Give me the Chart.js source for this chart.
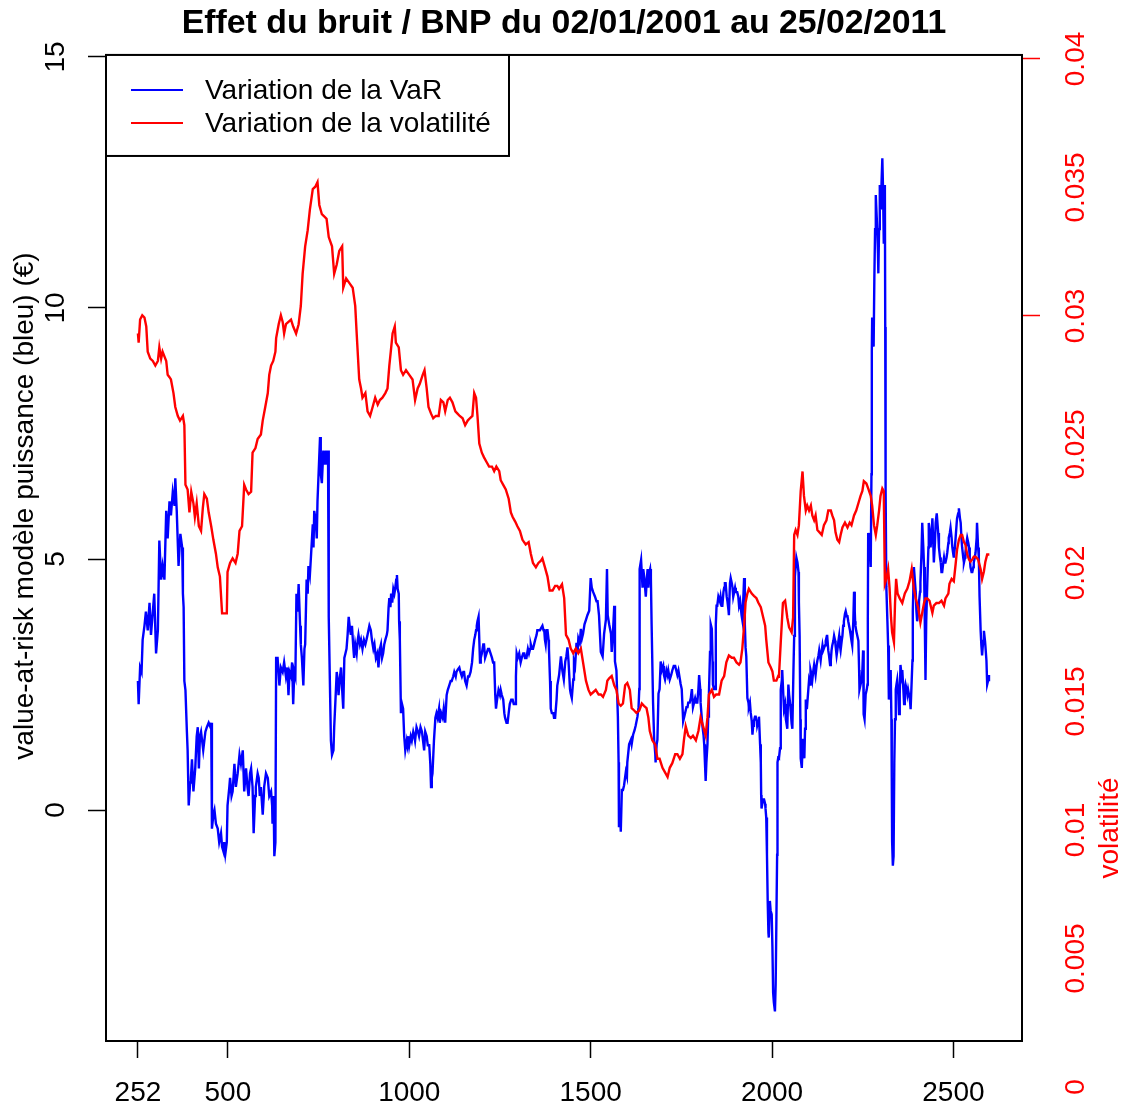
<!DOCTYPE html>
<html>
<head>
<meta charset="utf-8">
<script src="https://cdn.jsdelivr.net/npm/chart.js@4.4.1/dist/chart.umd.min.js"></script>
<style>
  html, body { margin: 0; padding: 0; background: #fff; }
  #wrap { width: 1128px; height: 1114px; }
</style>
</head>
<body>
<div id="wrap"><canvas id="chart" width="1128" height="1114"></canvas></div>
<script>
// Tick positions / labels
const xTicks = [252, 500, 1000, 1500, 2000, 2500];
const leftTicks = [0, 5, 10, 15];
const rightTicks = [0, 0.005, 0.01, 0.015, 0.02, 0.025, 0.03, 0.035, 0.04];
const rightTickLabels = ['0', '0.005', '0.01', '0.015', '0.02', '0.025', '0.03', '0.035', '0.04'];
const rightTickMarks = [0.03, 0.04];

// Series: [day index, value]
const varPoints = [
  [252,2.57],[254,2.11],[258,2.84],[262,2.75],[265,3.39],[270,3.67],[274,3.95],[279,3.58],[284,4.13],[288,3.49],
  [293,3.95],[297,4.31],[302,3.12],[307,3.58],[311,5.37],[316,4.59],[320,4.86],[325,4.59],[330,5.96],[334,5.41],
  [339,6.15],[343,5.87],[348,6.33],[353,6.06],[355,6.61],[359,5.96],[364,4.86],[369,5.50],[374,5.23],[376,4.31],
  [378,4.04],[380,2.57],[383,2.39],[387,1.56],[389,1.19],[392,0.09],[396,0.55],[398,0.64],[401,1.01],[405,0.37],
  [410,0.83],[414,1.47],[417,1.65],[420,0.83],[423,1.47],[426,1.56],[432,1.19],[438,1.56],[442,1.65],[447,1.74],
  [452,1.65],[454,1.74],[456,-0.37],[460,-0.09],[463,0.0],[467,-0.27],[472,-0.37],[476,-0.64],[481,-0.46],[484,-0.73],
  [488,-0.83],[490,-0.64],[493,-0.87],[497,-0.64],[499,0.09],[504,0.46],[506,0.64],[510,0.28],[513,0.37],[518,0.92],
  [522,0.46],[527,0.73],[532,1.10],[536,0.92],[541,1.19],[545,0.37],[550,0.83],[554,0.46],[557,0.28],[561,0.73],
  [564,0.83],[568,0.46],[571,-0.46],[575,0.28],[577,0.46],[582,0.73],[585,0.64],[588,0.28],[591,0.46],[596,-0.09],
  [599,0.28],[600,0.46],[605,0.73],[610,0.64],[614,0.28],[619,0.37],[622,0.09],[623,-0.27],[626,0.28],[628,-0.92],
  [631,-0.64],[633,3.03],[637,3.03],[642,2.48],[646,2.84],[651,2.75],[655,2.94],[660,2.66],[664,2.84],[667,2.29],
  [670,2.75],[674,2.66],[677,2.94],[680,2.11],[683,2.75],[686,2.66],[689,4.31],[692,3.95],[695,4.50],[699,3.67],
  [701,3.30],[704,3.03],[708,2.48],[711,3.21],[713,3.30],[717,4.59],[720,4.31],[722,4.86],[726,4.68],[729,5.05],
  [734,5.69],[736,5.23],[738,5.96],[742,5.78],[745,5.41],[747,6.15],[750,6.70],[754,7.43],[756,6.70],[759,6.51],
  [763,7.16],[767,6.88],[770,7.16],[774,6.88],[776,7.16],[778,3.85],
  [784,1.38],[787,1.10],[791,1.19],[793,1.65],[796,2.11],[800,2.75],[803,2.57],[805,2.29],[809,2.66],[812,2.84],
  [815,2.39],[818,2.02],[821,3.03],[824,3.12],[827,3.21],[830,3.49],[833,3.85],[837,3.58],[839,3.49],[842,3.67],
  [846,3.21],[848,3.03],[851,3.30],[855,3.12],[858,3.39],[860,3.49],[864,3.30],[867,3.39],[871,3.21],[875,3.39],
  [879,3.30],[882,3.39],[885,3.49],[890,3.67],[894,3.58],[897,3.39],[901,3.21],[904,3.30],[908,3.03],[912,3.12],
  [915,2.84],[919,3.21],[922,3.30],[925,3.03],[928,3.12],[931,3.30],[934,3.39],[938,3.49],[940,3.58],[943,4.04],
  [945,4.22],[948,4.04],[950,4.31],[953,4.13],[956,4.40],[959,4.31],[961,4.40],[964,4.59],[966,4.68],[968,4.40],
  [971,4.31],[972,3.76],[974,3.39],[977,1.93],[980,2.11],[983,2.02],[986,1.47],[989,1.19],[993,1.38],[995,1.29],
  [998,1.47],[1000,1.29],[1004,1.47],[1007,1.38],[1011,1.56],[1014,1.47],[1016,1.38],[1020,1.65],[1024,1.56],[1027,1.47],
  [1031,1.65],[1035,1.56],[1038,1.38],[1041,1.19],[1044,1.56],[1048,1.47],[1051,1.29],[1055,1.29],[1058,0.92],[1060,0.46],
  [1062,0.64],[1064,0.73],[1068,1.38],[1072,1.84],[1075,1.93],[1078,1.84],[1082,2.02],[1084,1.74],[1088,1.93],[1092,1.84],
  [1095,2.02],[1099,1.74],[1103,2.29],[1106,2.39],[1110,2.48],[1114,2.57],[1117,2.57],[1121,2.66],[1124,2.75],[1128,2.66],
  [1130,2.75],[1134,2.80],[1138,2.84],[1141,2.75],[1145,2.66],[1149,2.75],[1151,2.75],[1154,2.57],[1158,2.48],[1162,2.66],
  [1165,2.66],[1169,2.75],[1173,2.94],[1176,3.21],[1179,3.39],[1182,3.49],[1184,3.58],[1186,3.67],[1188,3.76],[1191,3.85],
  [1195,2.94],[1197,3.03],[1200,3.12],[1204,3.30],[1206,3.30],[1209,3.03],[1213,3.12],[1217,3.21],[1220,3.21],[1224,3.12],
  [1228,3.03],[1231,2.94],[1234,2.94],[1237,2.29],[1239,2.02],[1242,2.20],[1246,2.39],[1250,2.29],[1252,2.39],[1255,2.29],
  [1259,2.20],[1262,1.93],[1264,1.84],[1268,1.74],[1271,1.74],[1274,1.93],[1277,2.11],[1281,2.20],[1285,2.20],[1288,2.11],
  [1292,2.11],[1294,2.66],[1296,3.12],[1299,3.03],[1303,3.12],[1307,2.94],[1310,3.03],[1314,3.12],[1317,3.12],[1319,3.03],
  [1323,3.03],[1327,3.21],[1330,3.12],[1333,3.21],[1335,3.30],[1338,3.21],[1341,3.21],[1344,3.30],[1347,3.39],[1351,3.49],
  [1353,3.58],[1356,3.58],[1360,3.58],[1363,3.62],[1367,3.67],[1370,3.58],[1372,3.58],[1374,3.39],[1376,3.30],[1379,3.58],
  [1381,3.58],[1384,3.39],[1385,3.21],[1388,2.57],[1390,2.02],[1393,1.93],[1397,1.93],[1399,1.84],[1402,1.84],[1406,2.20],
  [1408,2.48],
  [1413,2.69],[1418,3.06],[1422,2.78],[1426,2.60],[1430,2.96],[1433,3.06],[1436,3.24],[1439,2.96],[1443,2.41],[1445,2.32],
  [1448,2.23],[1452,2.60],[1454,2.96],[1457,2.87],[1461,3.33],[1464,3.15],[1466,3.42],[1470,3.33],[1473,3.61],[1476,3.42],
  [1479,3.51],[1483,3.70],[1487,3.79],[1491,3.88],[1496,3.97],[1500,4.62],[1503,4.43],[1507,4.34],[1512,4.25],[1516,4.16],
  [1519,4.16],[1523,3.88],[1528,3.15],[1533,3.06],[1537,3.51],[1542,3.79],[1545,4.80],[1547,3.88],[1551,3.70],[1556,3.51],
  [1558,3.15],[1562,3.61],[1565,4.07],[1567,2.96],[1571,2.78],[1575,1.86],[1577,0.95],[1578,-0.34],[1581,0.03],[1583,-0.43],
  [1586,0.40],[1589,0.40],[1592,0.49],[1597,0.76],[1600,0.67],[1601,0.95],[1606,1.31],[1611,1.40],[1613,1.31],[1617,1.50],
  [1621,1.59],[1624,1.68],[1629,1.86],[1632,2.05],[1634,2.41],[1635,4.80],[1639,4.98],[1643,4.43],[1645,4.80],[1648,4.62],
  [1652,4.25],[1655,4.62],[1657,4.80],[1659,4.43],[1661,4.71],[1664,4.80],[1666,4.62],[1668,3.70],[1672,2.14],[1675,1.40],
  [1678,1.13],[1679,0.95],[1682,1.31],[1684,1.40],[1687,2.32],[1690,2.41],[1693,2.96],[1696,2.78],[1700,2.87],[1702,2.69],
  [1705,2.60],[1709,2.78],[1712,2.69],[1714,2.78],[1718,2.60],[1722,2.69],[1725,2.78],[1729,2.87],[1733,2.87],[1736,2.78],
  [1739,2.69],[1742,2.78],[1746,2.60],[1748,2.51],[1751,2.41],[1755,1.77],[1758,1.86],[1760,1.86],[1764,2.05],[1767,2.05],
  [1769,2.14],[1773,2.14],[1776,2.23],[1779,2.41],[1782,2.05],[1785,2.14],[1788,2.23],[1791,2.14],[1794,2.14],[1797,2.41],
  [1799,2.69],[1802,2.41],[1803,2.14],[1806,1.86],[1808,1.68],[1811,1.50],[1813,1.31],[1815,0.95],[1817,0.58],[1819,0.95],
  [1822,1.31],[1824,1.86],[1826,2.32],[1829,3.15],[1831,3.70],[1834,3.61],[1836,2.96],[1837,2.50],[1840,2.41],[1843,2.41],
  [1845,3.70],[1847,4.07],[1849,4.07],[1852,4.25],[1856,4.16],[1858,4.25],[1861,4.07],[1863,4.07],[1866,4.34],[1868,4.43],
  [1870,4.52],[1872,4.52],[1875,4.25],[1877,4.16],[1880,3.97],[1881,3.88],[1884,4.52],[1886,4.62],[1889,4.52],[1891,4.43],
  [1893,4.25],[1895,4.25],[1898,4.43],[1900,4.34],[1903,4.34],[1904,4.34],[1907,4.25],[1909,4.07],[1912,4.16],[1914,4.16],
  [1916,3.88],[1918,3.79],[1921,4.25],[1923,4.62],[1925,3.70],[1927,3.24],[1929,3.06],[1932,2.23],[1935,2.14],[1936,2.05],
  [1939,2.14],[1941,1.95],[1944,1.77],[1946,1.50],[1948,1.68],[1950,1.77],[1953,1.86],[1955,1.86],[1958,1.77],[1959,1.68],
  [1962,1.77],[1964,1.86],[1967,1.31],[1969,0.95],[1970,0.30],[1971,0.03],[1975,0.21],[1978,0.21],[1981,0.12],[1982,0.03],
  [1984,-0.15],[1986,-0.89],[1988,-1.81],[1990,-2.45],[1991,-2.54],[1994,-1.81],[1996,-2.00],[1999,-2.08],[2001,-2.72],[2003,-3.64],
  [2005,-3.83],[2008,-4.01],[2010,-3.46],[2012,-2.17],[2014,-0.89],[2015,0.95],[2017,1.04],
  [2019,1.03],[2022,1.23],[2024,2.40],[2027,2.59],[2028,2.79],[2031,2.30],[2033,2.01],[2036,2.11],[2038,1.81],[2040,1.72],
  [2042,1.62],[2045,2.50],[2047,2.30],[2050,2.11],[2051,2.01],[2054,1.72],[2056,1.62],[2059,2.79],[2061,3.47],[2063,4.93],
  [2065,4.84],[2067,5.03],[2070,4.93],[2073,4.74],[2074,4.15],[2076,3.47],[2078,1.81],[2079,1.03],[2082,0.84],[2084,1.23],
  [2085,1.42],[2087,1.13],[2089,1.03],[2091,1.62],[2093,2.20],[2096,2.01],[2097,2.11],[2100,2.40],[2102,2.59],[2105,2.50],
  [2106,2.79],[2109,2.69],[2111,2.59],[2114,2.79],[2116,2.89],[2118,2.79],[2120,2.69],[2123,2.89],[2125,2.98],[2128,3.08],
  [2130,3.18],[2132,3.08],[2134,2.98],[2137,3.18],[2139,3.28],[2141,3.18],[2143,3.18],[2146,3.28],[2148,3.37],[2151,3.47],
  [2152,3.47],[2155,3.18],[2157,3.08],[2160,2.89],[2162,2.98],[2164,3.18],[2166,3.28],[2169,3.37],[2171,3.47],[2174,3.37],
  [2175,3.28],[2178,3.08],[2180,3.18],[2183,3.37],[2185,3.47],[2187,3.28],[2189,3.18],[2192,3.37],[2194,3.47],[2196,3.67],
  [2198,3.76],[2201,3.91],[2203,3.96],[2206,3.86],[2208,3.86],[2210,3.76],[2212,3.76],[2215,3.57],[2217,3.47],[2219,3.37],
  [2221,3.28],[2224,3.76],[2226,4.35],[2228,3.96],[2229,3.76],[2230,3.67],[2232,3.57],[2235,3.47],[2238,3.37],[2240,2.79],
  [2241,2.40],[2244,2.50],[2247,2.59],[2249,2.79],[2251,3.18],[2252,2.30],[2253,1.91],[2255,1.81],[2258,2.30],[2261,2.40],
  [2263,2.50],[2264,3.76],[2265,5.52],[2267,5.42],[2269,5.42],[2271,5.03],[2272,4.84],[2274,6.69],[2275,9.13],[2276,9.81],
  [2278,9.62],[2280,9.23],[2282,10.59],[2284,11.57],[2286,12.25],[2287,12.06],[2290,11.57],[2292,11.08],[2293,10.69],[2295,11.57],
  [2297,12.45],[2298,12.15],[2300,11.96],[2302,12.54],[2304,12.98],[2306,12.35],[2308,11.28],[2309,11.76],[2311,12.45],[2312,9.62],
  [2313,6.40],[2315,4.45],[2318,3.76],[2320,3.28],[2322,2.20],[2325,2.50],[2327,2.79],[2329,1.81],[2330,0.64],[2331,-0.63],
  [2333,-1.11],[2335,-0.92],[2337,0.93],[2339,1.81],[2341,2.40],[2343,2.50],[2345,2.59],[2348,2.30],[2350,1.91],[2352,2.30],
  [2354,2.89],[2357,2.69],[2359,2.79],[2362,2.40],[2364,2.11],[2366,2.40],[2368,2.50],[2371,2.40],[2373,2.30],[2375,2.40],
  [2377,2.40],[2380,2.20],[2382,2.01],[2385,2.59],[2387,2.98],[2388,3.96],[2391,4.84],[2394,4.54],[2396,4.35],[2398,3.96],
  [2400,3.76],[2403,3.96],[2405,4.15],[2408,4.35],[2409,4.54],[2412,5.13],[2414,5.72],[2417,5.23],[2419,4.84],[2421,3.76],
  [2423,2.59],[2425,3.76],[2428,4.54],[2431,5.23],[2432,5.72],[2435,5.52],[2437,5.23],[2440,5.52],[2442,5.81],[2444,5.42],
  [2446,4.93],[2449,5.32],[2451,5.72],[2454,5.91],[2455,5.81],[2458,5.52],[2460,5.23],[2463,5.03],[2465,4.93],[2467,4.74],
  [2469,4.74],[2472,4.93],[2474,5.03],[2476,4.93],[2478,4.93],[2481,5.03],[2483,5.13],[2486,5.32],[2487,5.42],[2490,5.52],
  [2492,5.62],[2495,5.42],[2497,5.23],[2499,5.13],[2501,5.03],[2504,5.23],[2506,5.42],[2509,5.72],[2510,5.81],[2513,5.91],
  [2515,6.01],[2518,5.81],[2520,5.72],[2522,5.42],[2524,5.23],[2527,5.03],[2529,4.93],[2532,5.03],[2533,5.13],[2536,5.32],
  [2538,5.42],[2541,5.32],[2543,5.23],[2545,5.03],[2547,4.84],[2550,4.74],[2552,4.74],[2555,4.84],[2556,4.93],[2559,5.03],
  [2561,5.13],[2564,5.42],[2565,5.72],[2568,5.23],[2570,5.03],[2572,4.25],[2575,3.57],[2577,3.28],[2579,3.08],[2582,3.37],
  [2584,3.57],[2587,3.37],[2588,3.28],[2591,2.98],[2593,2.50],[2596,2.59],[2598,2.69]
];

const volPoints = [
  [252,0.02932],[254,0.02896],[258,0.02986],[264,0.03003],[270,0.02994],[275,0.02959],[279,0.02861],[286,0.02834],[293,0.02825],[300,0.02807],
  [307,0.02825],[311,0.02878],[316,0.02834],[320,0.02861],[325,0.02843],[330,0.02825],[334,0.02771],[339,0.02762],[343,0.02753],[350,0.02700],
  [355,0.02646],[362,0.02611],[368,0.02593],[376,0.02611],[380,0.02575],[383,0.02343],[389,0.02325],[394,0.02236],[399,0.02316],[405,0.02271],
  [409,0.02218],[414,0.02271],[420,0.02182],[426,0.02164],[431,0.02254],[435,0.02307],[442,0.02289],[447,0.02236],[454,0.02182],[460,0.02129],
  [467,0.02075],[472,0.02022],[478,0.01986],[484,0.01843],[490,0.01843],[497,0.01843],[499,0.02004],[506,0.02039],[513,0.02057],[521,0.02039],
  [527,0.02075],[532,0.02164],[539,0.02182],[545,0.02343],[550,0.02325],[557,0.02307],[564,0.02316],[568,0.02468],[576,0.02486],[582,0.02521],
  [591,0.02539],[596,0.02593],[603,0.02646],[610,0.02700],[614,0.02771],[619,0.02807],[625,0.02825],[631,0.02861],[633,0.02914],[640,0.02968],
  [646,0.03003],[651,0.02977],[655,0.02932],[660,0.02968],[667,0.02977],[674,0.02986],[680,0.02959],[688,0.02932],[695,0.02968],[701,0.03039],
  [706,0.03164],[713,0.03271],[720,0.03334],[726,0.03414],[734,0.03494],[741,0.03503],[747,0.03521],[752,0.03432],[759,0.03396],[766,0.03387],
  [772,0.03378],[778,0.03307],
  [787,0.03271],[793,0.03164],[800,0.03200],[807,0.03253],[815,0.03271],[818,0.03110],[826,0.03146],[835,0.03128],[844,0.03110],[851,0.03039],
  [855,0.02932],[862,0.02753],[867,0.02718],[871,0.02682],[879,0.02700],[885,0.02629],[892,0.02611],[899,0.02646],[906,0.02682],[913,0.02655],
  [919,0.02673],[926,0.02682],[934,0.02700],[940,0.02718],[945,0.02807],[949,0.02861],[954,0.02932],[960,0.02959],[963,0.02896],[971,0.02878],
  [977,0.02789],[983,0.02771],[991,0.02789],[1000,0.02771],[1009,0.02753],[1016,0.02673],[1023,0.02718],[1029,0.02736],[1037,0.02771],[1042,0.02789],
  [1048,0.02718],[1053,0.02646],[1060,0.02620],[1066,0.02602],[1073,0.02611],[1081,0.02611],[1087,0.02673],[1094,0.02664],[1099,0.02629],[1106,0.02673],
  [1112,0.02682],[1119,0.02664],[1127,0.02629],[1133,0.02620],[1139,0.02611],[1147,0.02602],[1154,0.02575],[1161,0.02593],[1167,0.02602],[1174,0.02611],
  [1179,0.02700],[1184,0.02682],[1188,0.02611],[1193,0.02504],[1200,0.02468],[1206,0.02450],[1213,0.02432],[1220,0.02414],[1228,0.02414],[1234,0.02396],
  [1240,0.02414],[1248,0.02396],[1252,0.02361],[1259,0.02343],[1266,0.02325],[1274,0.02289],[1280,0.02236],[1285,0.02218],[1292,0.02200],[1298,0.02182],
  [1305,0.02164],[1312,0.02129],[1321,0.02111],[1329,0.02120],[1335,0.02075],[1341,0.02039],[1349,0.02022],[1356,0.02039],[1363,0.02048],[1367,0.02057],
  [1374,0.02022],[1381,0.01986],[1387,0.01932],[1395,0.01932],[1402,0.01950],[1408,0.01950],
  [1413,0.01938],[1421,0.01956],[1427,0.01902],[1432,0.01759],[1439,0.01741],[1445,0.01706],[1452,0.01688],[1459,0.01706],[1466,0.01688],[1473,0.01706],
  [1479,0.01652],[1487,0.01581],[1494,0.01545],[1500,0.01527],[1507,0.01536],[1514,0.01545],[1522,0.01527],[1528,0.01527],[1534,0.01518],[1542,0.01545],
  [1546,0.01581],[1551,0.01590],[1558,0.01599],[1565,0.01563],[1571,0.01545],[1577,0.01492],[1583,0.01483],[1589,0.01492],[1595,0.01563],[1601,0.01572],
  [1608,0.01545],[1613,0.01474],[1620,0.01465],[1626,0.01456],[1634,0.01465],[1641,0.01492],[1647,0.01483],[1654,0.01474],[1659,0.01438],[1663,0.01385],
  [1670,0.01349],[1678,0.01331],[1684,0.01277],[1690,0.01277],[1698,0.01242],[1705,0.01224],[1712,0.01206],[1718,0.01242],[1725,0.01260],[1733,0.01295],
  [1739,0.01295],[1746,0.01277],[1753,0.01295],[1757,0.01349],[1762,0.01403],[1769,0.01367],[1776,0.01358],[1782,0.01367],[1790,0.01349],[1797,0.01385],
  [1803,0.01438],[1810,0.01403],[1817,0.01367],[1822,0.01438],[1826,0.01527],[1834,0.01545],[1840,0.01518],[1846,0.01527],[1854,0.01527],[1861,0.01581],
  [1868,0.01599],[1874,0.01652],[1881,0.01679],[1889,0.01670],[1895,0.01670],[1902,0.01652],[1909,0.01643],[1913,0.01652],[1918,0.01706],[1923,0.01795],
  [1927,0.01885],[1932,0.01920],[1936,0.01938],[1944,0.01920],[1950,0.01911],[1957,0.01902],[1962,0.01885],[1969,0.01867],[1975,0.01831],[1981,0.01795],
  [1984,0.01741],[1990,0.01652],[1996,0.01634],[2001,0.01617],[2005,0.01581],[2012,0.01581],[2017,0.01599],
  [2019,0.01598],[2024,0.01731],[2030,0.01883],[2036,0.01892],[2042,0.01826],[2047,0.01788],[2054,0.01769],[2058,0.01826],[2061,0.02148],[2065,0.02167],
  [2070,0.02148],[2074,0.02186],[2079,0.02319],[2084,0.02395],[2088,0.02300],[2093,0.02243],[2097,0.02262],[2102,0.02243],[2107,0.02262],[2111,0.02224],
  [2116,0.02205],[2120,0.02224],[2125,0.02167],[2131,0.02158],[2137,0.02148],[2143,0.02186],[2150,0.02205],[2155,0.02243],[2162,0.02243],[2166,0.02224],
  [2171,0.02205],[2175,0.02158],[2180,0.02129],[2185,0.02120],[2189,0.02148],[2194,0.02177],[2201,0.02196],[2208,0.02177],[2214,0.02196],[2219,0.02186],
  [2226,0.02224],[2232,0.02243],[2240,0.02281],[2244,0.02300],[2249,0.02319],[2253,0.02357],[2260,0.02348],[2265,0.02329],[2272,0.02300],[2276,0.02262],
  [2281,0.02186],[2286,0.02148],[2290,0.02186],[2295,0.02243],[2299,0.02300],[2304,0.02329],[2308,0.02319],[2311,0.01958],[2315,0.01977],[2320,0.02015],
  [2324,0.01939],[2328,0.01826],[2331,0.01769],[2336,0.01731],[2339,0.01883],[2342,0.01977],[2346,0.01920],[2352,0.01901],[2359,0.01883],[2366,0.01920],
  [2373,0.01939],[2379,0.01968],[2385,0.02015],[2391,0.01939],[2396,0.01901],[2403,0.01864],[2409,0.01807],[2414,0.01845],[2419,0.01883],[2423,0.01901],
  [2428,0.01901],[2434,0.01892],[2442,0.01845],[2446,0.01873],[2453,0.01883],[2460,0.01883],[2467,0.01892],[2474,0.01873],[2478,0.01901],[2486,0.01920],
  [2489,0.01958],[2495,0.01977],[2501,0.01968],[2506,0.02034],[2510,0.02091],[2515,0.02129],[2520,0.02148],[2524,0.02148],[2529,0.02120],[2533,0.02110],
  [2538,0.02072],[2543,0.02053],[2547,0.02044],[2552,0.02053],[2556,0.02063],[2561,0.02063],[2568,0.02053],[2575,0.02015],[2579,0.01977],[2584,0.02006],
  [2588,0.02044],[2593,0.02072],[2599,0.02072]
];

const FONT = "'Liberation Sans', Arial, sans-serif";
const blue = '#0000ff';
const red = '#ff0000';

// rotated axis texts, the plot box and the legend (R style)
const rStylePlugin = {
  id: 'rStyle',
  afterDraw(chart) {
    const ctx = chart.ctx;
    const area = chart.chartArea;
    const yL = chart.scales.y;
    const yR = chart.scales.y2;

    ctx.save();
    ctx.strokeStyle = '#000';
    ctx.lineWidth = 2;
    ctx.strokeRect(area.left, area.top, area.right - area.left, area.bottom - area.top);

    const rotText = (txt, x, y, color) => {
      ctx.save();
      ctx.translate(x, y);
      ctx.rotate(-Math.PI / 2);
      ctx.fillStyle = color;
      ctx.textAlign = 'center';
      ctx.textBaseline = 'middle';
      ctx.fillText(txt, 0, 0);
      ctx.restore();
    };

    ctx.font = '28px ' + FONT;
    leftTicks.forEach(v => rotText(String(v), 56, yL.getPixelForValue(v), '#000'));
    rotText('value-at-risk modèle puissance (bleu) (€)', 25, 506, '#000');
    rightTicks.forEach((v, i) => rotText(rightTickLabels[i], 1076, yR.getPixelForValue(v), red));
    rotText('volatilité', 1110, 828, red);

    // legend
    ctx.fillStyle = '#fff';
    ctx.fillRect(area.left, area.top, 403, 101);
    ctx.strokeStyle = '#000';
    ctx.lineWidth = 2;
    ctx.strokeRect(area.left, area.top, 403, 101);
    const rows = [['Variation de la VaR', blue, 90], ['Variation de la volatilité', red, 123]];
    rows.forEach(([label, color, y]) => {
      ctx.strokeStyle = color;
      ctx.lineWidth = 2;
      ctx.beginPath();
      ctx.moveTo(131, y);
      ctx.lineTo(183, y);
      ctx.stroke();
      ctx.fillStyle = '#000';
      ctx.textAlign = 'left';
      ctx.textBaseline = 'middle';
      ctx.fillText(label, 205, y + 1);
    });
    ctx.restore();
  }
};

new Chart(document.getElementById('chart'), {
  type: 'line',
  data: {
    datasets: [{
      label: 'Variation de la VaR',
      data: varPoints.map(p => ({ x: p[0], y: p[1] })),
      yAxisID: 'y',
      borderColor: blue,
      borderWidth: 2.4,
      pointRadius: 0,
      tension: 0,
      order: 2
    }, {
      label: 'Variation de la volatilité',
      data: volPoints.map(p => ({ x: p[0], y: p[1] })),
      yAxisID: 'y2',
      borderColor: red,
      borderWidth: 2.4,
      pointRadius: 0,
      tension: 0,
      order: 1
    }]
  },
  options: {
    responsive: false,
    animation: false,
    devicePixelRatio: 1,
    layout: { padding: 0 },
    plugins: {
      legend: { display: false },
      tooltip: { enabled: false },
      title: {
        display: true,
        text: 'Effet du bruit / BNP du 02/01/2001 au 25/02/2011',
        color: '#000',
        font: { family: FONT, size: 33.8, weight: 'bold' },
        padding: { top: 3, bottom: 11.4 }
      }
    },
    scales: {
      x: {
        type: 'linear',
        position: 'bottom',
        min: 164,
        max: 2689,
        afterBuildTicks: s => { s.ticks = xTicks.map(v => ({ value: v })); },
        afterFit: s => { s.height = 73; },
        ticks: {
          color: '#000',
          font: { family: FONT, size: 28 },
          padding: 18,
          autoSkip: false,
          maxRotation: 0,
          callback: v => String(v)
        },
        grid: { drawOnChartArea: false, drawTicks: true, tickLength: 17, tickColor: '#000', tickWidth: 1.5 },
        border: { display: false }
      },
      y: {
        type: 'linear',
        position: 'left',
        min: -4.6,
        max: 15.04,
        afterBuildTicks: s => { s.ticks = leftTicks.map(v => ({ value: v })); },
        afterFit: s => { s.width = 106; },
        ticks: { display: false },
        grid: { drawOnChartArea: false, drawTicks: true, tickLength: 18, tickColor: '#000', tickWidth: 1.5 },
        border: { display: false }
      },
      y2: {
        type: 'linear',
        position: 'right',
        min: 0.00179,
        max: 0.040156,
        afterBuildTicks: s => { s.ticks = rightTickMarks.map(v => ({ value: v })); },
        afterFit: s => { s.width = 106; },
        ticks: { display: false },
        grid: { drawOnChartArea: false, drawTicks: true, tickLength: 18, tickColor: red, tickWidth: 1.5 },
        border: { display: false }
      }
    }
  },
  plugins: [rStylePlugin]
});
</script>
</body>
</html>
